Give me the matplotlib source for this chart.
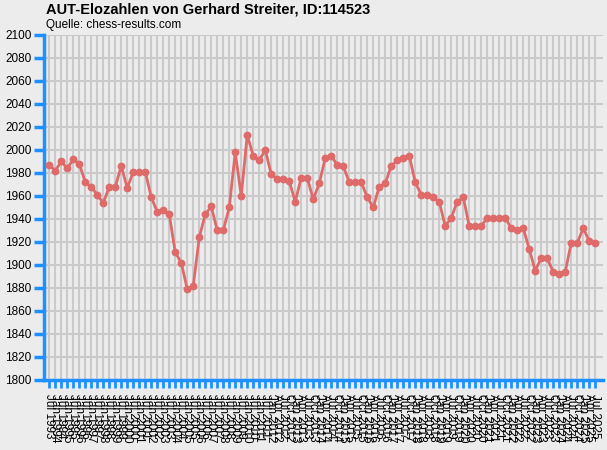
import matplotlib
matplotlib.use("Agg")
import matplotlib.pyplot as plt

plt.rcParams['font.family'] = ['Liberation Sans', 'DejaVu Sans']

# Rating list dates: semi-annual until Jan 2012, quarterly from Apr 2012
semi_dates = ["Jul 1993"] + [f"{m} {y}" for y in range(1994, 2012) for m in ("Jan", "Jul")] + ["Jan 2012"]
quarter_dates = [f"{m} {y}" for y in range(2012, 2025) for m in ("Jan", "Apr", "Jul", "Oct") if not (y == 2012 and m == "Jan")] + ["Jan 2025", "Apr 2025", "Jul 2025"]
dates = semi_dates + quarter_dates

ratings = [
    1987, 1982, 1990, 1984, 1992, 1988, 1972, 1968, 1961, 1954,
    1968, 1968, 1986, 1967, 1981, 1981, 1981, 1959, 1946, 1948,
    1944, 1911, 1902, 1879, 1882, 1924, 1944, 1951, 1930, 1930,
    1950, 1998, 1960, 2013, 1995, 1991, 2000, 1979, 1975, 1975,
    1973, 1955, 1976, 1976, 1957, 1971, 1993, 1995, 1987, 1986,
    1972, 1972, 1972, 1959, 1950, 1968, 1971, 1986, 1991, 1993,
    1995, 1972, 1961, 1961, 1959, 1955, 1934, 1941, 1955, 1959,
    1934, 1934, 1934, 1941, 1941, 1941, 1941, 1932, 1930, 1932,
    1914, 1895, 1906, 1906, 1894, 1892, 1894, 1919, 1919, 1932,
    1921, 1919,
]

y_ticks = list(range(1800, 2101, 20))

title = "AUT-Elozahlen von Gerhard Streiter, ID:114523"
subtitle = "Quelle: chess-results.com"

bg = "#ECECEC"
blue = "#1E90FF"
red = "#DE6A6A"
grid = "#CACACA"

W, H = 607, 450
fig = plt.figure(figsize=(W / 100, H / 100), dpi=100, facecolor=bg)
ax = fig.add_axes([44 / W, 1 - 380 / H, (603 - 44) / W, (380 - 35) / H])
ax.set_facecolor(bg)

x = list(range(len(ratings)))
ax.plot(x, ratings, color=red, lw=2.0, marker='o', markersize=4.6,
        markerfacecolor=red, markeredgecolor=red, zorder=3, clip_on=False)

ax.set_xlim(-0.88, 92.3)
ax.set_ylim(1800, 2100)
ax.set_yticks(y_ticks)
ax.set_xticks(x)
ax.set_xticklabels(dates, rotation=-90, fontsize=8.5, va='top', ha='center')
ax.tick_params(axis='y', colors=blue, length=7, width=2.5, labelsize=8.5, labelcolor='black', pad=2)
ax.tick_params(axis='x', colors=blue, length=6, width=2, labelcolor='black', pad=4)

ax.grid(True, color=grid, lw=1.5, zorder=0)
ax.set_axisbelow(True)
for s in ('top', 'right'):
    ax.spines[s].set_visible(False)
for s in ('left', 'bottom'):
    ax.spines[s].set_color(blue)
    ax.spines[s].set_linewidth(2.5)

fig.text(46 / W, 1 - 3 / H, title, fontsize=10.5, fontweight='bold', va='top', ha='left')
fig.text(46 / W, 1 - 19 / H, subtitle, fontsize=8.5, va='top', ha='left')

fig.savefig("out.png", dpi=100, facecolor=bg)
